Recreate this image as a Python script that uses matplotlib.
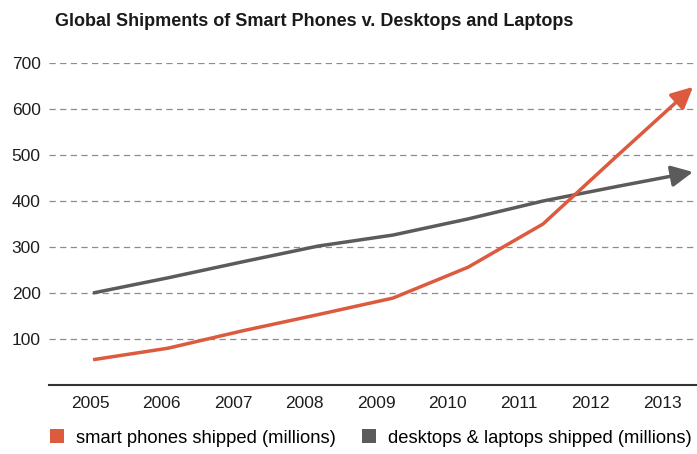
import matplotlib
matplotlib.use('Agg')
import matplotlib.pyplot as plt
from matplotlib.patches import Patch
import numpy as np

years = ['2005', '2006', '2007', '2008', '2009', '2010', '2011', '2012', '2013']
phones = [55, 80, 118, 153, 189, 256, 350, 500, 648]
computers = [200, 233, 268, 302, 326, 361, 400, 432, 463]
yticks = [100, 200, 300, 400, 500, 600, 700]

red = '#dc5a3e'
grey = '#5b5b5b'

plt.rcParams['font.family'] = ['Liberation Sans', 'DejaVu Sans']

fig = plt.figure(figsize=(6.97, 4.54), dpi=100)
ax = fig.add_axes([49 / 697, 69 / 454, 648 / 697, 322 / 454])

x = np.arange(len(years))
for vals, col in [(computers, grey), (phones, red)]:
    ax.plot(x[:-1], vals[:-1], color=col, lw=2.5, solid_capstyle='butt', zorder=3)
    ax.annotate('', xy=(x[-1], vals[-1]), xytext=(x[-2], vals[-2]),
                arrowprops=dict(arrowstyle='-|>,head_length=0.65,head_width=0.32',
                                color=col, lw=2.5, shrinkA=0, shrinkB=0,
                                mutation_scale=20), zorder=3)

ax.set_xlim(-0.587, 8.053)
ax.set_ylim(0, 700)
ax.set_yticks(yticks)
ax.set_yticklabels([str(v) for v in yticks], fontsize=12.5, color='#1e1e1e')
# category labels sit a bit narrower than the plotted points in the original
ax.set_xticks(np.linspace(-0.04, 7.59, len(years)))
ax.set_xticklabels(years, fontsize=12.5, color='#1e1e1e')
ax.tick_params(axis='both', length=0)
ax.tick_params(axis='y', pad=6)
ax.tick_params(axis='x', pad=8)

ax.yaxis.grid(True, linestyle=(0, (5, 3.5)), color='#8c8c8c', lw=0.9)
ax.set_axisbelow(True)
for s in ['top', 'right', 'left']:
    ax.spines[s].set_visible(False)
ax.spines['bottom'].set_color('#333333')
ax.spines['bottom'].set_linewidth(1.5)
ax.spines['bottom'].set_zorder(4)

fig.text(55 / 697, 1 - 21 / 454, 'Global Shipments of Smart Phones v. Desktops and Laptops',
         fontsize=13, fontweight='bold', color='#1a1a1a', va='center', ha='left')

handles = [Patch(facecolor=red, edgecolor='none', label='smart phones shipped (millions)'),
           Patch(facecolor=grey, edgecolor='none', label='desktops & laptops shipped (millions)')]
fig.legend(handles=handles, loc='center left', bbox_to_anchor=(50 / 697, 1 - 438 / 454),
           ncol=2, frameon=False, fontsize=13.2, handlelength=0.75, handleheight=0.75,
           handletextpad=0.65, columnspacing=1.45, borderaxespad=0, borderpad=0)

fig.savefig('out.png', dpi=100)
